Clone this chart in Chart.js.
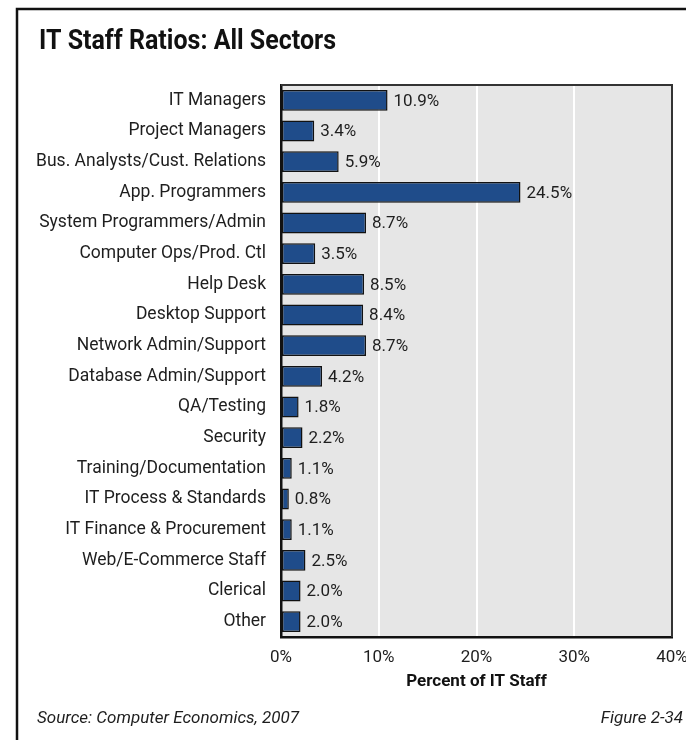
<!DOCTYPE html>
<html>
<head>
<meta charset="utf-8">
<script src="https://cdn.jsdelivr.net/npm/chart.js@4/dist/chart.umd.min.js"></script>
<style>
  html, body { margin: 0; padding: 0; background: #fff; }
  #wrap { width: 686px; height: 740px; position: relative; }
</style>
</head>
<body>
<div id="wrap"><canvas id="chart" width="686" height="740"></canvas></div>
<script>
// Staff roles and their share of total IT staff (percent)
const roles = [
  'IT Managers', 'Project Managers', 'Bus. Analysts/Cust. Relations', 'App. Programmers',
  'System Programmers/Admin', 'Computer Ops/Prod. Ctl', 'Help Desk', 'Desktop Support',
  'Network Admin/Support', 'Database Admin/Support', 'QA/Testing', 'Security',
  'Training/Documentation', 'IT Process & Standards', 'IT Finance & Procurement',
  'Web/E-Commerce Staff', 'Clerical', 'Other'
];
const sharePct = [10.9, 3.4, 5.9, 24.5, 8.7, 3.5, 8.5, 8.4, 8.7, 4.2, 1.8, 2.2, 1.1, 0.8, 1.1, 2.5, 2.0, 2.0];
const axisTicks = [0, 10, 20, 30, 40];

const chartTitle = 'IT Staff Ratios: All Sectors';
const axisTitle = 'Percent of IT Staff';
const sourceNote = 'Source: Computer Economics, 2007';
const figureNote = 'Figure 2-34';

const FONT = 'Roboto, "Liberation Sans", Arial, sans-serif';
const TEXT = '#1e1e1e';

// Frame, heading, plot background and footer notes
const decor = {
  id: 'decor',
  beforeDraw(chart) {
    const { ctx, chartArea: a, width, height } = chart;
    ctx.save();
    ctx.fillStyle = '#fff';
    ctx.fillRect(0, 0, width, height);
    ctx.strokeStyle = '#111';
    ctx.lineWidth = 2.5;
    ctx.beginPath();
    ctx.moveTo(width + 5, 9);
    ctx.lineTo(17, 9);
    ctx.lineTo(17, height + 5);
    ctx.stroke();

    ctx.fillStyle = '#e6e6e6';
    ctx.fillRect(a.left, a.top, a.right - a.left, a.bottom - a.top);

    // heading in a tall, condensed bold face
    ctx.save();
    ctx.fillStyle = '#111';
    ctx.font = 'bold 27px ' + FONT;
    ctx.textBaseline = 'alphabetic';
    ctx.textAlign = 'left';
    const w = ctx.measureText(chartTitle).width;
    const sx = Math.min(1, 297 / w);
    ctx.translate(39, 49);
    ctx.scale(sx, 1);
    ctx.fillText(chartTitle, 0, 0);
    ctx.restore();

    ctx.fillStyle = TEXT;
    ctx.font = 'italic 17px ' + FONT;
    ctx.textAlign = 'left';
    ctx.textBaseline = 'alphabetic';
    ctx.fillText(sourceNote, 37, 723);
    ctx.textAlign = 'right';
    ctx.fillText(figureNote, 683, 723);
    ctx.restore();
  },
  beforeDatasetsDraw(chart) {
    const { ctx, chartArea: a } = chart;
    ctx.save();
    ctx.strokeStyle = '#333';
    ctx.lineWidth = 2;
    ctx.beginPath();
    ctx.moveTo(a.left, a.top);
    ctx.lineTo(a.right, a.top);
    ctx.lineTo(a.right, a.bottom);
    ctx.stroke();
    ctx.restore();
  },
  afterDatasetsDraw(chart) {
    const { ctx } = chart;
    const meta = chart.getDatasetMeta(0);
    ctx.save();
    ctx.fillStyle = TEXT;
    ctx.font = '17px ' + FONT;
    ctx.textAlign = 'left';
    ctx.textBaseline = 'middle';
    meta.data.forEach((bar, i) => {
      ctx.fillText(sharePct[i].toFixed(1) + '%', bar.x + 6, bar.y + 1);
    });
    ctx.restore();
  }
};

new Chart(document.getElementById('chart'), {
  type: 'bar',
  data: {
    labels: roles,
    datasets: [{
      data: sharePct,
      backgroundColor: '#1f4c8a',
      borderColor: '#111',
      borderWidth: 1.5,
      borderSkipped: false,
      barPercentage: 0.68,
      categoryPercentage: 1
    }]
  },
  options: {
    indexAxis: 'y',
    responsive: false,
    animation: false,
    events: [],
    layout: { padding: { left: 17, top: 85, right: 0, bottom: 0 } },
    plugins: { legend: { display: false }, title: { display: false }, tooltip: { enabled: false } },
    scales: {
      x: {
        min: 0,
        max: 40,
        afterBuildTicks(scale) { scale.ticks = axisTicks.map(v => ({ value: v })); },
        afterFit(scale) {
          scale.height = 103;
          // let the last tick label run to the canvas edge
          scale.paddingRight = 14;
        },
        grid: {
          drawTicks: false,
          lineWidth: 2,
          color: c => (c.tick && c.tick.value > 0 && c.tick.value < 40) ? '#ffffff' : 'rgba(0,0,0,0)'
        },
        border: { display: true, color: '#111', width: 2.5 },
        ticks: {
          padding: 11,
          color: TEXT,
          font: { family: FONT, size: 17 },
          callback: v => v + '%'
        },
        title: {
          display: true,
          text: axisTitle,
          color: '#111',
          font: { family: FONT, size: 17, weight: 'bold' },
          padding: { top: 0, bottom: 48 }
        }
      },
      y: {
        afterFit(scale) { scale.width = 264; },
        grid: { display: false, drawTicks: false },
        border: { display: true, color: '#111', width: 2.5 },
        ticks: {
          padding: 15,
          color: TEXT,
          font: { family: FONT, size: 17.5 }
        }
      }
    }
  },
  plugins: [decor]
});
</script>
</body>
</html>
